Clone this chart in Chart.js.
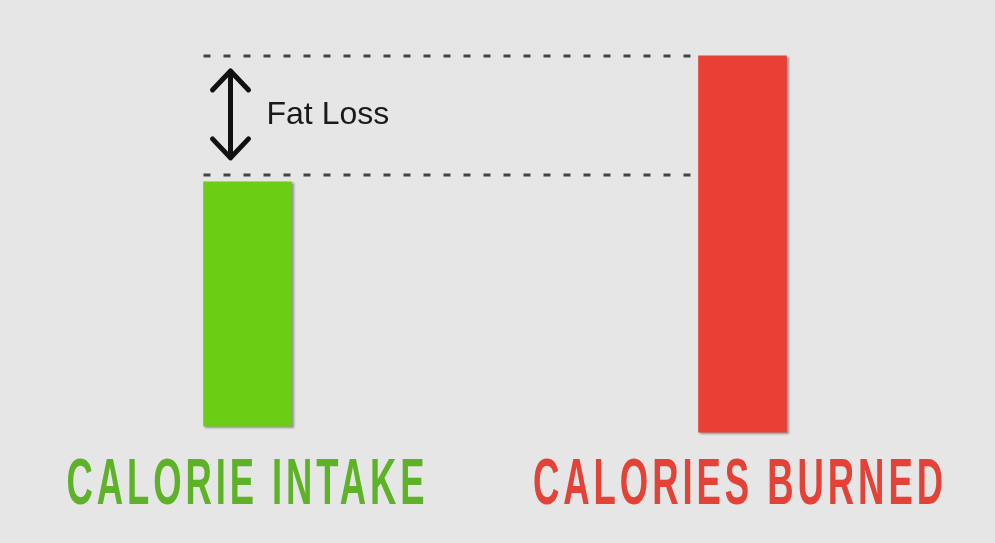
<!DOCTYPE html>
<html>
<head>
<meta charset="utf-8">
<script src="https://cdn.jsdelivr.net/npm/chart.js@4/dist/chart.umd.min.js"></script>
<style>
    html, body { margin: 0; padding: 0; background: #e6e6e6; }
    #wrap { width: 995px; height: 543px; position: relative; }
</style>
</head>
<body>
<div id="wrap"><canvas id="fat-chart"></canvas></div>
<script>
// Chart data (arbitrary energy units, no axis in the picture)
const categories = ['CALORIE INTAKE', 'CALORIES BURNED'];
const barBottoms = [21.5, 20.4];
const barTops = [66.5, 89.7];
const guideLevels = [89.7, 67.8];
const gapLabel = 'Fat Loss';

const barColors = ['#6bce15', '#e84034'];
const labelColors = ['#5eb228', '#e44236'];

// Background fill
const backgroundPlugin = {
    id: 'background',
    beforeDraw(chart) {
        const ctx = chart.ctx;
        ctx.save();
        ctx.fillStyle = '#e6e6e6';
        ctx.fillRect(0, 0, chart.width, chart.height);
        ctx.restore();
    }
};

// Soft shadow on bars
const shadowPlugin = {
    id: 'barShadow',
    beforeDatasetDraw(chart) {
        const ctx = chart.ctx;
        ctx.save();
        ctx.shadowColor = 'rgba(0, 0, 0, 0.35)';
        ctx.shadowOffsetX = 2;
        ctx.shadowOffsetY = 1;
        ctx.shadowBlur = 2;
    },
    afterDatasetDraw(chart) {
        chart.ctx.restore();
    }
};

// Dotted guides, arrow, and category labels
const overlayPlugin = {
    id: 'overlay',
    afterDraw(chart) {
        const ctx = chart.ctx;
        const x = chart.scales.x;
        const y = chart.scales.y;
        const meta = chart.getDatasetMeta(0);
        const leftBar = meta.data[0];
        const rightBar = meta.data[1];
        const x0 = leftBar.x - leftBar.width / 2;
        const x1 = rightBar.x - rightBar.width / 2 - 2;

        // dotted lines
        ctx.save();
        ctx.strokeStyle = '#444';
        ctx.lineWidth = 3;
        ctx.setLineDash([7, 13]);
        guideLevels.forEach(v => {
            const py = Math.round(y.getPixelForValue(v));
            ctx.beginPath();
            ctx.moveTo(x0, py);
            ctx.lineTo(x1, py);
            ctx.stroke();
        });
        ctx.restore();

        // double arrow
        const topY = y.getPixelForValue(guideLevels[0]) + 15;
        const botY = y.getPixelForValue(guideLevels[1]) - 17;
        const ax = x0 + 27;
        ctx.save();
        ctx.strokeStyle = '#111';
        ctx.lineWidth = 5;
        ctx.lineCap = 'round';
        ctx.lineJoin = 'round';
        ctx.beginPath();
        ctx.moveTo(ax, topY);
        ctx.lineTo(ax, botY);
        ctx.moveTo(ax - 18, topY + 19);
        ctx.lineTo(ax, topY);
        ctx.lineTo(ax + 18, topY + 19);
        ctx.moveTo(ax - 18, botY - 19);
        ctx.lineTo(ax, botY);
        ctx.lineTo(ax + 18, botY - 19);
        ctx.stroke();

        ctx.fillStyle = '#1a1a1a';
        ctx.font = '32px "Liberation Sans", Arial, sans-serif';
        ctx.textBaseline = 'middle';
        ctx.fillText(gapLabel, ax + 36, (topY + botY) / 2 + 1);
        ctx.restore();

        // category labels, condensed with some tracking
        const targetWidths = [362, 414];
        const nudges = [0, -2.5];
        const tracking = 7;
        categories.forEach((label, i) => {
            const cx = x.getPixelForValue(i) + nudges[i];
            ctx.save();
            ctx.font = 'bold 65px "Liberation Sans", Arial, sans-serif';
            ctx.letterSpacing = tracking + 'px';
            const w = ctx.measureText(label).width;
            const sx = targetWidths[i] / w;
            ctx.translate(cx - targetWidths[i] / 2, 504);
            ctx.scale(sx, 1);
            ctx.fillStyle = labelColors[i];
            ctx.textAlign = 'left';
            ctx.textBaseline = 'alphabetic';
            ctx.fillText(label, 0, 0);
            ctx.restore();
        });
    }
};

function initializeChart() {
    const ctx = document.getElementById('fat-chart').getContext('2d');
    new Chart(ctx, {
        type: 'bar',
        data: {
            labels: categories,
            datasets: [{
                data: categories.map((_, i) => [barBottoms[i], barTops[i]]),
                backgroundColor: barColors,
                borderWidth: 0,
                barThickness: 88
            }]
        },
        options: {
            responsive: true,
            maintainAspectRatio: false,
            animation: false,
            layout: {
                padding: { left: 0, right: 5, top: 0, bottom: 0 }
            },
            plugins: {
                legend: { display: false },
                tooltip: { enabled: false }
            },
            scales: {
                x: { display: false },
                y: { display: false, min: 0, max: 100 }
            }
        },
        plugins: [backgroundPlugin, shadowPlugin, overlayPlugin]
    });
}

document.addEventListener('DOMContentLoaded', initializeChart);
</script>
</body>
</html>
